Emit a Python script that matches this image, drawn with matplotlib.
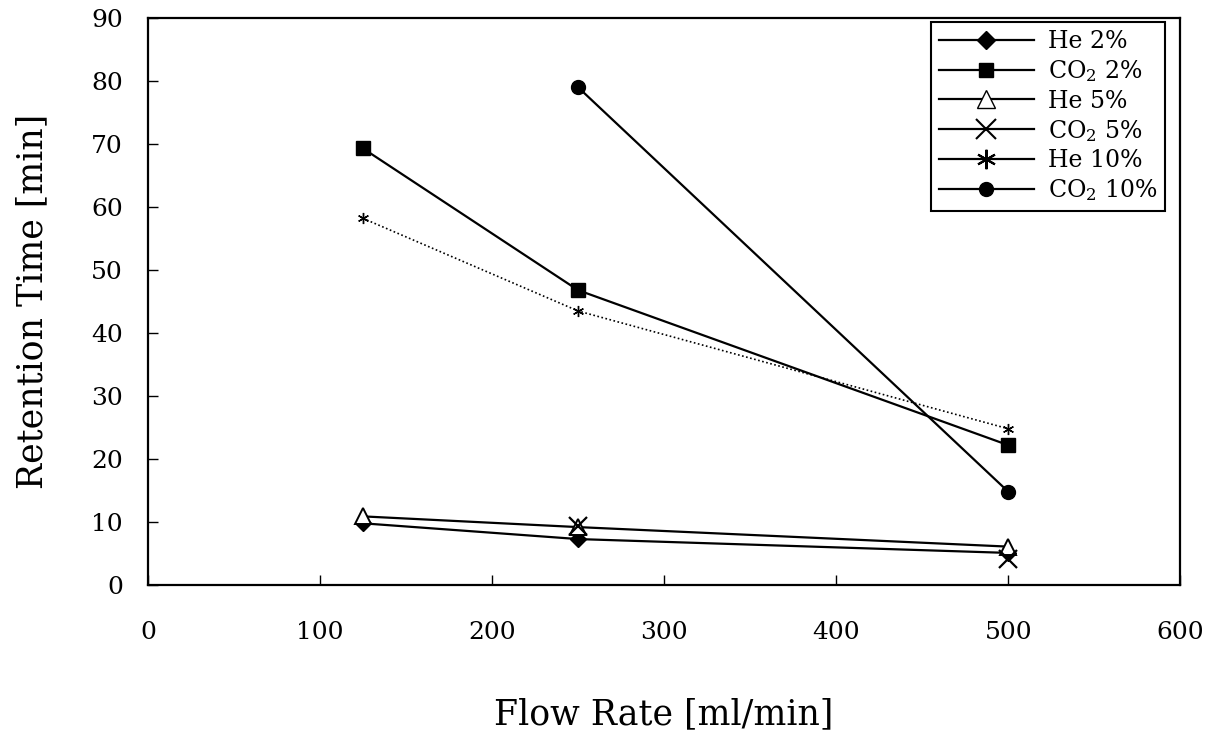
import numpy as np
import matplotlib
matplotlib.use("Agg")
import matplotlib.pyplot as plt
from matplotlib.lines import Line2D

plt.rcParams['font.family'] = ['DejaVu Serif']
plt.rcParams['mathtext.fontset'] = 'dejavuserif'

# data
flow = [125, 250, 500]
he_2 = [9.8, 7.3, 5.1]
co2_2 = [69.3, 46.8, 22.2]
he_5 = [10.9, 9.2, 6.1]
co2_5 = [np.nan, 9.4, 4.1]
he_10 = [58.2, 43.5, 24.8]
co2_10 = [np.nan, 79.0, 14.8]

labels = ['He 2%', 'CO$_2$ 2%', 'He 5%', 'CO$_2$ 5%', 'He 10%', 'CO$_2$ 10%']

fig = plt.figure(figsize=(12.22, 7.35), dpi=100)
ax = fig.add_axes([0.121, 0.204, 0.845, 0.7715])

lw = 1.6
ax.plot(flow, he_2, color='black', lw=lw, marker='D', ms=8, mfc='black')
ax.plot(flow, co2_2, color='black', lw=lw, marker='s', ms=10, mfc='black')
ax.plot(flow, he_5, color='black', lw=lw, marker='^', ms=11, mfc='white', mew=1.4)
# CO2 5% points sit on top of the other low lines, no visible segment
ax.plot(flow, co2_5, color='black', ls='none', marker='x', ms=13, mew=1.6)
ax.plot(flow, he_10, color='black', lw=1.2, ls=(0, (1, 1.5)), marker=(6, 2, 0), ms=8, mew=1.0)
ax.plot(flow, co2_10, color='black', lw=lw, marker='o', ms=10, mfc='black')

ax.set_xlim(0, 600)
ax.set_ylim(0, 90)
ax.set_xticks(np.arange(0, 601, 100))
ax.set_yticks(np.arange(0, 91, 10))
ax.tick_params(direction='in', length=7, width=1, labelsize=18)
ax.tick_params(axis='x', pad=26)
ax.tick_params(axis='y', pad=18)
for s in ax.spines.values():
    s.set_linewidth(1.6)

ax.set_xlabel('Flow Rate [ml/min]', fontsize=25, labelpad=38)
ax.set_ylabel('Retention Time [min]', fontsize=25, labelpad=30)

handles = [
    Line2D([], [], color='black', lw=lw, marker='D', ms=9),
    Line2D([], [], color='black', lw=lw, marker='s', ms=10),
    Line2D([], [], color='black', lw=lw, marker='^', ms=13, mfc='white'),
    Line2D([], [], color='black', lw=lw, marker='x', ms=14, mew=1.5),
    Line2D([], [], color='black', lw=lw, marker=(6, 2, 0), ms=14, mew=1.5),
    Line2D([], [], color='black', lw=lw, marker='o', ms=10),
]
leg = ax.legend(handles, labels, loc='upper right', bbox_to_anchor=(0.9855, 0.993),
                borderaxespad=0, fontsize=17, handlelength=4.0, labelspacing=0.22,
                borderpad=0.35, handletextpad=0.6, fancybox=False,
                edgecolor='black', framealpha=1)
leg.get_frame().set_linewidth(1.5)

plt.savefig('out.png', dpi=100)
